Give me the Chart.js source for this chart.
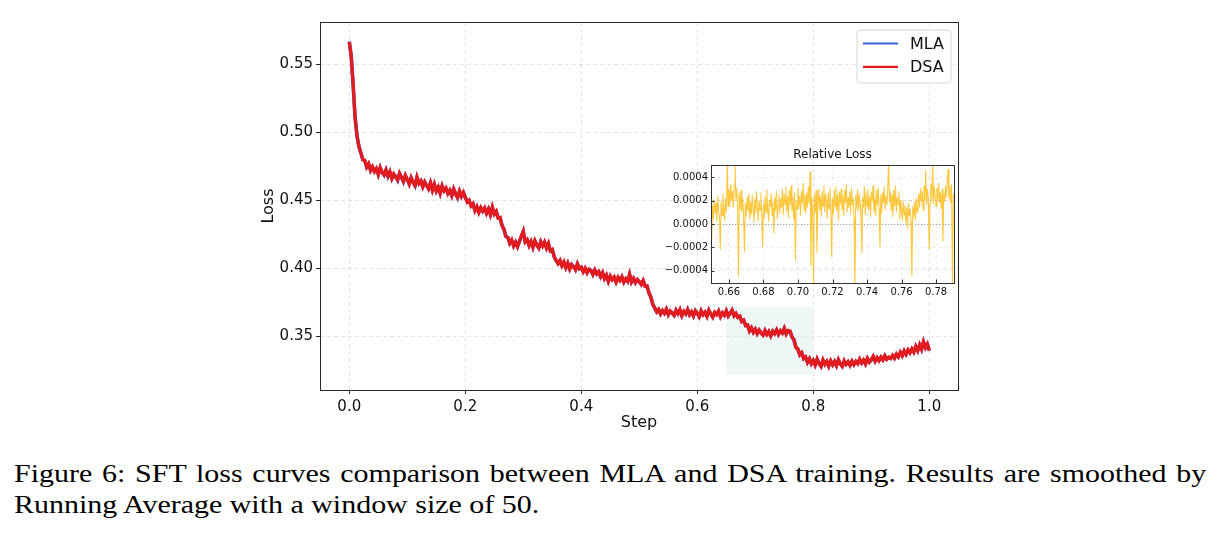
<!DOCTYPE html>
<html><head><meta charset="utf-8">
<script src="https://cdn.jsdelivr.net/npm/chart.js@4.4.1/dist/chart.umd.min.js"></script>
<style>
html,body{margin:0;padding:0;background:#fff;}
#page{position:relative;width:1220px;height:539px;overflow:hidden;background:#fff;}
#mainWrap{position:absolute;left:240px;top:10px;width:730px;height:430px;}
#insetWrap{position:absolute;left:650px;top:140px;width:310px;height:165px;}
.cap{position:absolute;left:14px;font-family:"Liberation Serif","Times New Roman",serif;font-size:26px;line-height:31.3px;color:#000;white-space:nowrap;transform:scaleX(1.152);transform-origin:0 0;}
#cap1{top:458px;word-spacing:2px;}
#cap2{top:489.3px;}
</style></head>
<body><div id="page">
<div id="mainWrap"><canvas id="main" width="730" height="430"></canvas></div>
<div id="insetWrap"><canvas id="inset" width="310" height="165"></canvas></div>
<div class="cap" id="cap1">Figure 6: SFT loss curves comparison between MLA and DSA training. Results are smoothed by</div>
<div class="cap" id="cap2">Running Average with a window size of 50.</div>
</div>
<script>
// ---- main chart data (normalized step 0..1, 301 samples) ----
const seriesNames = ['MLA', 'DSA'];
const stepCount = 301;
const mlaLoss = [
0.5668,0.5562,0.5347,0.5112,0.4972,0.4897,0.4848,0.4802,0.4792,0.4747,
0.4768,0.4722,0.4745,0.4714,0.4732,0.4692,0.4739,0.4707,0.4686,0.4723,
0.4678,0.4709,0.4662,0.4692,0.4674,0.4648,0.4697,0.4670,0.4638,0.4682,
0.4653,0.4622,0.4665,0.4634,0.4608,0.4669,0.4627,0.4642,0.4602,0.4635,
0.4610,0.4587,0.4627,0.4577,0.4617,0.4570,0.4595,0.4554,0.4605,0.4572,
0.4589,0.4552,0.4572,0.4537,0.4582,0.4550,0.4520,0.4567,0.4532,0.4557,
0.4522,0.4490,0.4499,0.4462,0.4475,0.4427,0.4452,0.4414,0.4445,0.4422,
0.4442,0.4407,0.4435,0.4397,0.4449,0.4402,0.4417,0.4372,0.4372,0.4317,
0.4287,0.4237,0.4227,0.4187,0.4207,0.4167,0.4192,0.4162,0.4197,0.4237,
0.4272,0.4197,0.4209,0.4170,0.4197,0.4157,0.4202,0.4174,0.4152,0.4195,
0.4167,0.4192,0.4152,0.4182,0.4132,0.4137,0.4087,0.4057,0.4037,0.4057,
0.4022,0.4045,0.4007,0.4037,0.3997,0.4027,0.4014,0.3992,0.4032,0.4000,
0.4007,0.3977,0.3999,0.3970,0.3992,0.3987,0.3957,0.3987,0.3962,0.3975,
0.3942,0.3967,0.3927,0.3949,0.3907,0.3942,0.3920,0.3935,0.3902,0.3932,
0.3914,0.3937,0.3900,0.3922,0.3907,0.3955,0.3902,0.3925,0.3897,0.3917,
0.3902,0.3884,0.3909,0.3872,0.3869,0.3822,0.3787,0.3737,0.3709,0.3682,
0.3697,0.3667,0.3689,0.3672,0.3699,0.3662,0.3685,0.3674,0.3657,0.3692,
0.3670,0.3695,0.3654,0.3682,0.3667,0.3697,0.3662,0.3679,0.3652,0.3687,
0.3669,0.3647,0.3687,0.3662,0.3677,0.3650,0.3692,0.3667,0.3644,0.3675,
0.3662,0.3685,0.3647,0.3672,0.3657,0.3687,0.3652,0.3669,0.3692,0.3654,
0.3667,0.3642,0.3647,0.3612,0.3617,0.3582,0.3582,0.3542,0.3562,0.3532,
0.3552,0.3522,0.3545,0.3527,0.3512,0.3542,0.3517,0.3535,0.3507,0.3537,
0.3522,0.3547,0.3517,0.3539,0.3527,0.3559,0.3520,0.3542,0.3537,0.3497,
0.3475,0.3422,0.3407,0.3367,0.3379,0.3340,0.3349,0.3312,0.3335,0.3302,
0.3322,0.3292,0.3332,0.3302,0.3282,0.3325,0.3297,0.3315,0.3284,0.3319,
0.3294,0.3315,0.3287,0.3327,0.3300,0.3282,0.3319,0.3297,0.3312,0.3290,
0.3317,0.3294,0.3315,0.3302,0.3332,0.3307,0.3325,0.3300,0.3337,0.3314,
0.3327,0.3352,0.3320,0.3342,0.3324,0.3347,0.3330,0.3357,0.3334,0.3345,
0.3340,0.3359,0.3342,0.3369,0.3352,0.3382,0.3360,0.3392,0.3370,0.3399,
0.3382,0.3407,0.3387,0.3425,0.3397,0.3437,0.3407,0.3459,0.3420,0.3442,
0.3397];
const dsaLoss = [
0.5665,0.5560,0.5350,0.5110,0.4975,0.4895,0.4850,0.4800,0.4795,0.4745,
0.4770,0.4720,0.4748,0.4712,0.4735,0.4690,0.4742,0.4705,0.4688,0.4726,
0.4680,0.4712,0.4660,0.4695,0.4672,0.4650,0.4700,0.4668,0.4640,0.4685,
0.4655,0.4620,0.4668,0.4632,0.4610,0.4672,0.4625,0.4645,0.4600,0.4638,
0.4612,0.4585,0.4630,0.4575,0.4620,0.4568,0.4598,0.4552,0.4608,0.4570,
0.4592,0.4550,0.4575,0.4535,0.4585,0.4548,0.4522,0.4570,0.4530,0.4560,
0.4525,0.4488,0.4502,0.4460,0.4478,0.4425,0.4455,0.4412,0.4448,0.4420,
0.4445,0.4405,0.4438,0.4395,0.4452,0.4400,0.4420,0.4370,0.4375,0.4315,
0.4290,0.4235,0.4230,0.4185,0.4210,0.4165,0.4195,0.4160,0.4200,0.4240,
0.4275,0.4195,0.4212,0.4168,0.4200,0.4155,0.4205,0.4172,0.4150,0.4198,
0.4165,0.4195,0.4150,0.4185,0.4130,0.4140,0.4085,0.4060,0.4035,0.4060,
0.4020,0.4048,0.4005,0.4040,0.3995,0.4030,0.4012,0.3990,0.4035,0.3998,
0.4010,0.3975,0.4002,0.3968,0.3995,0.3985,0.3955,0.3990,0.3960,0.3978,
0.3940,0.3970,0.3925,0.3952,0.3905,0.3945,0.3918,0.3938,0.3900,0.3935,
0.3912,0.3940,0.3898,0.3925,0.3905,0.3958,0.3900,0.3928,0.3895,0.3920,
0.3905,0.3882,0.3912,0.3870,0.3872,0.3820,0.3790,0.3735,0.3712,0.3680,
0.3700,0.3665,0.3692,0.3670,0.3702,0.3660,0.3688,0.3672,0.3655,0.3695,
0.3668,0.3698,0.3652,0.3685,0.3665,0.3700,0.3660,0.3682,0.3650,0.3690,
0.3672,0.3645,0.3690,0.3660,0.3680,0.3648,0.3695,0.3665,0.3642,0.3678,
0.3660,0.3688,0.3645,0.3675,0.3655,0.3690,0.3650,0.3672,0.3695,0.3652,
0.3670,0.3640,0.3650,0.3610,0.3620,0.3580,0.3585,0.3540,0.3565,0.3530,
0.3555,0.3520,0.3548,0.3525,0.3510,0.3545,0.3515,0.3538,0.3505,0.3540,
0.3520,0.3550,0.3515,0.3542,0.3525,0.3562,0.3518,0.3545,0.3540,0.3495,
0.3478,0.3420,0.3410,0.3365,0.3382,0.3338,0.3352,0.3310,0.3338,0.3300,
0.3325,0.3290,0.3335,0.3300,0.3280,0.3328,0.3295,0.3318,0.3282,0.3322,
0.3292,0.3318,0.3285,0.3330,0.3298,0.3280,0.3322,0.3295,0.3315,0.3288,
0.3320,0.3292,0.3318,0.3300,0.3335,0.3305,0.3328,0.3298,0.3340,0.3312,
0.3330,0.3355,0.3318,0.3345,0.3322,0.3350,0.3328,0.3360,0.3332,0.3348,
0.3338,0.3362,0.3340,0.3372,0.3350,0.3385,0.3358,0.3395,0.3368,0.3402,
0.3380,0.3410,0.3385,0.3428,0.3395,0.3440,0.3405,0.3462,0.3418,0.3445,
0.3395];
const mainXTicks = [0, 0.2, 0.4, 0.6, 0.8, 1.0];
const mainXTickLabels = ['0.0','0.2','0.4','0.6','0.8','1.0'];
const mainYTicks = [0.35, 0.40, 0.45, 0.50, 0.55];
const mainYTickLabels = ['0.35','0.40','0.45','0.50','0.55'];
const highlightX = [0.65, 0.80];
const highlightY = [0.3222, 0.3717];

// ---- inset data: relative loss (units of 1e-4), step 0.650..0.790 by 0.0005 ----
const insetStart = 0.650, insetStep = 0.0005;
const relLossE4 = [
-1.3,1.6,0.4,2.1,0.9,1.8,0.2,2.4,1.1,0.6,
-2.2,1.9,0.7,2.6,1.2,0.3,2.2,1.0,5.3,1.5,
3.0,1.6,3.4,2.0,2.8,1.4,3.3,5.3,2.1,3.1,
1.5,-4.5,2.7,1.2,2.9,1.0,2.2,0.5,-2.4,1.8,
0.6,2.3,1.1,2.6,0.4,1.9,0.8,2.5,1.3,0.1,
2.2,0.9,2.8,1.4,0.3,2.0,1.2,2.7,0.6,-2.0,
1.7,0.5,2.4,1.0,2.9,1.3,0.2,2.1,1.5,2.6,
0.7,1.9,-0.8,2.3,1.1,2.8,0.4,1.6,2.5,0.9,
2.2,1.4,3.0,0.8,2.6,1.7,3.2,1.0,2.4,0.5,
2.9,1.6,3.3,1.1,2.3,0.4,2.7,-3.1,2.0,1.3,
3.1,1.5,2.4,0.7,2.8,1.8,3.5,1.2,2.5,0.9,
2.7,1.4,3.2,1.8,4.5,-3.6,2.3,1.1,-5.3,2.6,
1.0,2.9,-2.5,1.7,3.0,1.2,2.4,0.6,2.8,1.5,
3.3,1.0,2.6,1.9,0.5,2.7,1.3,3.1,1.6,-2.8,
2.2,0.8,2.9,1.5,3.2,1.1,2.5,0.3,2.8,1.7,
3.0,1.2,2.4,0.7,2.9,1.8,3.4,1.0,2.3,1.4,
2.8,0.9,3.1,1.6,2.2,0.5,-5.3,2.5,1.3,3.0,
1.1,2.6,1.7,0.4,-2.5,2.3,1.4,3.2,0.8,2.7,
1.5,3.0,1.2,2.4,0.6,2.8,1.9,3.3,1.0,2.2,
0.7,2.9,1.6,3.1,1.3,-2.0,2.5,0.9,2.7,1.8,
3.2,1.2,2.4,1.6,3.0,5.3,1.9,2.8,1.1,2.5,
0.6,2.9,1.5,3.3,1.0,2.3,1.7,2.8,0.4,2.1,
1.2,0.3,1.9,0.8,1.6,0.1,1.4,-0.4,1.8,0.7,
1.3,0.2,-4.5,1.5,0.6,1.9,0.3,2.2,1.0,1.7,
2.6,1.4,3.1,1.9,2.8,1.2,3.3,2.0,4.6,1.6,
3.0,2.2,-2.2,1.8,3.4,2.1,5.3,1.7,3.2,2.4,
1.5,3.1,2.0,3.5,1.8,2.7,1.3,3.0,-1.5,2.6,
1.9,3.3,2.3,3.6,4.7,2.1,3.2,1.8,3.4,-5.3,
2.6];
const insetXTicks = [0.66,0.68,0.70,0.72,0.74,0.76,0.78];
const insetXTickLabels = ['0.66','0.68','0.70','0.72','0.74','0.76','0.78'];
const insetYTicks = [-4,-2,0,2,4];
const insetYTickLabels = ['\u22120.0004','\u22120.0002','0.0000','0.0002','0.0004'];
const insetTitle = 'Relative Loss';

const FONT = 'DejaVu Sans';
const seriesColors = ['#3d62db', '#e41a1c'];

// ---------- main chart ----------
const mainDecor = {
  id: 'mainDecor',
  beforeDatasetsDraw(chart) {
    const {ctx, scales: {x, y}} = chart;
    const x1 = x.getPixelForValue(highlightX[0]), x2 = x.getPixelForValue(highlightX[1]);
    const y1 = y.getPixelForValue(highlightY[1]), y2 = y.getPixelForValue(highlightY[0]);
    ctx.save();
    ctx.fillStyle = 'rgba(214,236,232,0.42)';
    ctx.fillRect(x1, y1, x2 - x1, y2 - y1);
    ctx.restore();
  },
  afterDraw(chart) {
    const {ctx, chartArea: ca} = chart;
    ctx.save();
    ctx.strokeStyle = '#262626';
    ctx.lineWidth = 1;
    ctx.strokeRect(Math.round(ca.left) + 0.5, Math.round(ca.top) + 0.5,
      Math.round(ca.right - ca.left), Math.round(ca.bottom - ca.top));
    // legend
    const bx = ca.right - 101, by = ca.top + 8, bw = 94, bh = 53, r = 4;
    ctx.beginPath();
    ctx.moveTo(bx + r, by);
    ctx.arcTo(bx + bw, by, bx + bw, by + bh, r);
    ctx.arcTo(bx + bw, by + bh, bx, by + bh, r);
    ctx.arcTo(bx, by + bh, bx, by, r);
    ctx.arcTo(bx, by, bx + bw, by, r);
    ctx.closePath();
    ctx.fillStyle = 'rgba(255,255,255,0.85)';
    ctx.fill();
    ctx.strokeStyle = '#d6d6d6';
    ctx.stroke();
    ctx.font = '16px "' + FONT + '"';
    ctx.textBaseline = 'middle';
    ctx.textAlign = 'left';
    seriesNames.forEach((name, i) => {
      const ly = by + 13.5 + i * 23.4;
      ctx.strokeStyle = seriesColors[i];
      ctx.lineWidth = 2.2;
      ctx.beginPath();
      ctx.moveTo(bx + 6, ly);
      ctx.lineTo(bx + 41, ly);
      ctx.stroke();
      ctx.fillStyle = '#111';
      ctx.fillText(name, bx + 53, ly + 1);
    });
    ctx.restore();
  }
};

function pts(vals) {
  return vals.map((v, i) => ({x: i / (stepCount - 1), y: v}));
}

new Chart(document.getElementById('main'), {
  type: 'line',
  data: {
    datasets: [
      {label: seriesNames[0], data: pts(mlaLoss), borderColor: seriesColors[0], borderWidth: 3.6, pointRadius: 0, tension: 0, order: 2},
      {label: seriesNames[1], data: pts(dsaLoss), borderColor: seriesColors[1], borderWidth: 3.3, pointRadius: 0, tension: 0, order: 1}
    ]
  },
  options: {
    responsive: false, animation: false, devicePixelRatio: 1,
    layout: {padding: {top: 10, right: 12, left: 0, bottom: 0}},
    plugins: {legend: {display: false}, tooltip: {enabled: false}},
    scales: {
      x: {
        type: 'linear', min: -0.0505, max: 1.0495,
        afterBuildTicks: s => { s.ticks = mainXTicks.map(v => ({value: v})); },
        afterFit: s => { s.height = 50; },
        grid: {color: 'rgba(0,0,0,0.13)', lineWidth: 0.8, drawTicks: true, tickLength: 4, tickColor: '#262626', tickWidth: 1},
        border: {display: false, dash: [4, 3]},
        ticks: {autoSkip: false, maxRotation: 0, padding: 4, color: '#111', font: {family: FONT, size: 15},
          callback: (v, i) => mainXTickLabels[i]},
        title: {display: true, text: 'Step', color: '#111', font: {family: FONT, size: 16}, padding: {top: 0, bottom: 7.5}}
      },
      y: {
        type: 'linear', min: 0.3107, max: 0.5812,
        afterBuildTicks: s => { s.ticks = mainYTicks.map(v => ({value: v})); },
        afterFit: s => { s.width = 80; },
        grid: {color: 'rgba(0,0,0,0.13)', lineWidth: 0.8, drawTicks: true, tickLength: 4, tickColor: '#262626', tickWidth: 1},
        border: {display: false, dash: [4, 3]},
        ticks: {autoSkip: false, padding: 3, color: '#111', font: {family: FONT, size: 15},
          callback: (v, i) => mainYTickLabels[i]},
        title: {display: true, text: 'Loss', color: '#111', font: {family: FONT, size: 16}, padding: {top: 19, bottom: 0}}
      }
    }
  },
  plugins: [mainDecor]
});

// ---------- inset chart ----------
const insetDecor = {
  id: 'insetDecor',
  beforeDatasetsDraw(chart) {
    const {ctx, chartArea: ca, scales: {y}} = chart;
    const y0 = Math.round(y.getPixelForValue(0)) + 0.5;
    ctx.save();
    ctx.strokeStyle = '#8a8a8a';
    ctx.lineWidth = 0.8;
    ctx.setLineDash([1.2, 1.8]);
    ctx.beginPath();
    ctx.moveTo(ca.left, y0);
    ctx.lineTo(ca.right, y0);
    ctx.stroke();
    ctx.restore();
  },
  afterDraw(chart) {
    const {ctx, chartArea: ca, scales: {x, y}} = chart;
    ctx.save();
    ctx.strokeStyle = '#333';
    ctx.lineWidth = 1;
    ctx.strokeRect(Math.round(ca.left) + 0.5, Math.round(ca.top) + 0.5,
      Math.round(ca.right - ca.left), Math.round(ca.bottom - ca.top));
    ctx.beginPath();
    insetXTicks.forEach(v => {
      const px = Math.round(x.getPixelForValue(v)) + 0.5;
      ctx.moveTo(px, ca.bottom); ctx.lineTo(px, ca.bottom - 3.5);
    });
    insetYTicks.forEach(v => {
      const py = Math.round(y.getPixelForValue(v)) + 0.5;
      ctx.moveTo(ca.left, py); ctx.lineTo(ca.left + 3.5, py);
    });
    ctx.stroke();
    ctx.fillStyle = '#111';
    ctx.font = '12px "' + FONT + '"';
    ctx.textAlign = 'center';
    ctx.textBaseline = 'middle';
    ctx.fillText(insetTitle, (ca.left + ca.right) / 2, ca.top - 10);
    ctx.restore();
  }
};

new Chart(document.getElementById('inset'), {
  type: 'line',
  data: {
    datasets: [{
      label: insetTitle,
      data: relLossE4.map((v, i) => ({x: insetStart + i * insetStep, y: v})),
      borderColor: 'rgba(252,190,30,0.85)', borderWidth: 1.1, pointRadius: 0, tension: 0
    }]
  },
  options: {
    responsive: false, animation: false, devicePixelRatio: 1,
    layout: {padding: {top: 25, right: 6, left: 0, bottom: 0}},
    plugins: {legend: {display: false}, tooltip: {enabled: false}},
    scales: {
      x: {
        type: 'linear', min: 0.6496, max: 0.7904,
        afterBuildTicks: s => { s.ticks = insetXTicks.map(v => ({value: v})); },
        afterFit: s => { s.height = 22; },
        grid: {color: 'rgba(0,0,0,0.09)', lineWidth: 0.8, drawTicks: false},
        border: {display: false, dash: [3, 3]},
        ticks: {autoSkip: false, maxRotation: 0, padding: 3, color: '#111', font: {family: FONT, size: 10},
          callback: (v, i) => insetXTickLabels[i]}
      },
      y: {
        type: 'linear', min: -5.05, max: 5.05,
        afterBuildTicks: s => { s.ticks = insetYTicks.map(v => ({value: v})); },
        afterFit: s => { s.width = 61; },
        grid: {color: 'rgba(0,0,0,0.09)', lineWidth: 0.8, drawTicks: false},
        border: {display: false, dash: [3, 3]},
        ticks: {autoSkip: false, padding: 3, color: '#111', font: {family: FONT, size: 10},
          callback: (v, i) => insetYTickLabels[i]}
      }
    }
  },
  plugins: [insetDecor]
});
</script>
</body></html>
